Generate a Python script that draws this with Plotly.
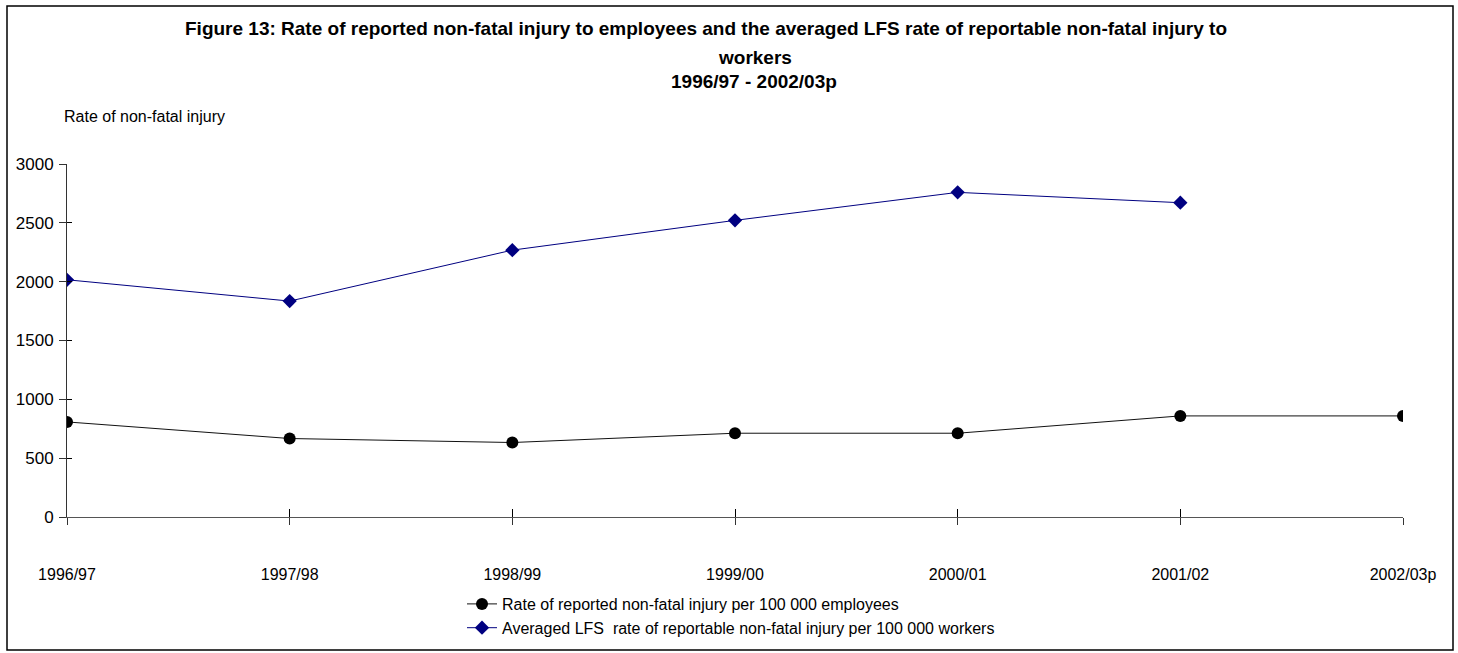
import plotly.graph_objects as go

years = ["1996/97", "1997/98", "1998/99", "1999/00", "2000/01", "2001/02", "2002/03p"]
reported_rate = [808, 667, 633, 712, 712, 859, 859]
lfs_rate = [2016, 1835, 2268, 2521, 2759, 2671, None]

FONT = "Liberation Sans Narrow, Arial Narrow, Liberation Sans, Arial, sans-serif"

fig = go.Figure()
fig.add_trace(go.Scatter(
    x=years, y=reported_rate, mode="lines+markers",
    name="Rate of reported non-fatal injury per 100 000 employees",
    line=dict(color="#111111", width=1),
    marker=dict(symbol="circle", size=12, color="#000000"),
))
fig.add_trace(go.Scatter(
    x=years, y=lfs_rate, mode="lines+markers",
    name="Averaged LFS  rate of reportable non-fatal injury per 100 000 workers",
    line=dict(color="#000080", width=1),
    marker=dict(symbol="diamond", size=11, color="#000080"),
))
# invisible overlay axes, only there for the inner half of the crossing ticks
fig.add_trace(go.Scatter(x=years, y=reported_rate, xaxis="x2", yaxis="y2",
                         mode="markers", marker=dict(opacity=0),
                         showlegend=False, hoverinfo="skip"))

fig.update_layout(
    width=1458, height=653,
    margin=dict(l=67, r=55, t=164, b=136, autoexpand=False),
    paper_bgcolor="white", plot_bgcolor="white",
    font=dict(family=FONT, size=16, color="#000000"),
    xaxis=dict(range=[0, 6], showgrid=False, zeroline=False, automargin=False,
               showline=True, linecolor="#555555", linewidth=1,
               ticks="outside", ticklen=7, tickcolor="#333333",
               ticklabelstandoff=36, tickfont=dict(size=16)),
    yaxis=dict(range=[0, 3000], dtick=500, showgrid=False, zeroline=False,
               automargin=False, showline=True, linecolor="#333333", linewidth=1,
               ticks="outside", ticklen=7, tickcolor="#333333",
               ticklabelstandoff=2, tickfont=dict(size=17)),
    xaxis2=dict(overlaying="x", anchor="y2", type="category", range=[0, 6],
                showgrid=False, zeroline=False, showline=False, automargin=False,
                showticklabels=False, ticks="inside", ticklen=8,
                tickcolor="#000000", tickwidth=1, side="bottom"),
    yaxis2=dict(overlaying="y", anchor="x2", range=[0, 3000], dtick=500,
                showgrid=False, zeroline=False, showline=False, automargin=False,
                showticklabels=False, ticks="inside", ticklen=5,
                tickcolor="#000000", tickwidth=1, side="left"),
    showlegend=True,
    legend=dict(x=(462 - 67) / 1336, y=(517 - 587) / 353, xanchor="left", yanchor="top",
                font=dict(size=16), bgcolor="rgba(0,0,0,0)", tracegroupgap=0,
                itemwidth=30),
)

title_lines = [
    ("Figure 13: Rate of reported non-fatal injury to employees and the averaged LFS rate of reportable non-fatal injury to", 28, 706),
    ("workers", 57, 755),
    ("1996/97 - 2002/03p", 82, 754),
]
for text, py, px_ in title_lines:
    fig.add_annotation(text="<b>" + text + "</b>", xref="paper", yref="paper",
                       x=(px_ - 67) / 1336, y=(517 - py) / 353,
                       xanchor="center", yanchor="middle", showarrow=False,
                       font=dict(size=19, family=FONT))

fig.add_annotation(text="Rate of non-fatal injury", xref="paper", yref="paper",
                   x=(62 - 67) / 1336, y=(517 - 116) / 353,
                   xanchor="left", yanchor="middle", showarrow=False,
                   font=dict(size=16, family=FONT))

fig.add_shape(type="rect", xref="paper", yref="paper",
              x0=(7 - 67) / 1336, x1=(1453 - 67) / 1336,
              y0=(517 - 650) / 353, y1=(517 - 6) / 353,
              line=dict(color="#000000", width=1.5))

fig.write_html("out.html", config={"displayModeBar": False},
               post_script="document.body.style.margin='0px';")
